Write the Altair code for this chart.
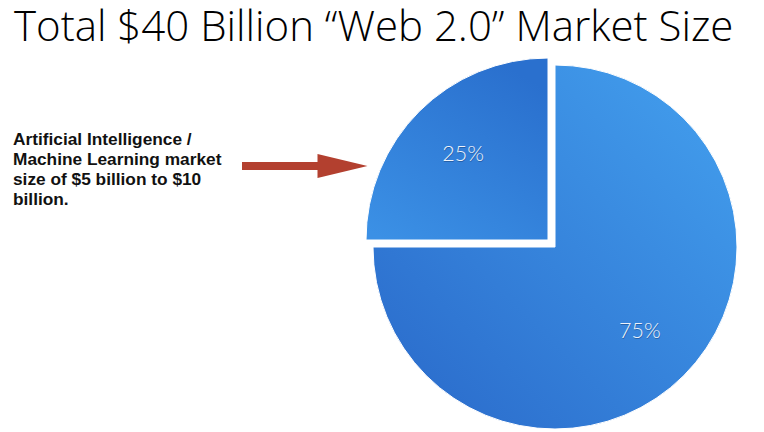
import altair as alt
import pandas as pd

# ---- data ----
segments = ["Rest of Web 2.0", "AI / Machine Learning"]
shares = [75, 25]
labels = ["75%", "25%"]
title_text = "Total $40 Billion \u201cWeb 2.0\u201d Market Size"
note_lines = ["Artificial Intelligence /", "Machine Learning market",
              "size of $5 billion to $10", "billion."]

df = pd.DataFrame({"segment": segments, "share": shares, "label": labels})

theta_scale = alt.Scale(domain=[0, 100])

base = (
    alt.Chart(df)
    .transform_stack(stack="share", groupby=[], as_=["s0", "s1"],
                     sort=[alt.SortField("share", order="descending")])
    .transform_calculate(mid="(datum.s0 + datum.s1) / 2")
)

grad_big = alt.LinearGradient(
    gradient="linear", x1=0, y1=1, x2=1, y2=0,
    stops=[alt.GradientStop(offset=0, color="#2968c9"),
           alt.GradientStop(offset=1, color="#44a1ef")])
grad_small = alt.LinearGradient(
    gradient="linear", x1=0.7, y1=0, x2=0.1, y2=1,
    stops=[alt.GradientStop(offset=0, color="#2a70ce"),
           alt.GradientStop(offset=1, color="#3b90e5")])


def slice_layers(seg, cx, cy, grad):
    b = base.transform_filter(alt.datum.segment == seg)
    arc = b.mark_arc(radius=182, fill=grad, stroke="#ffffff", strokeWidth=1).encode(
        theta=alt.Theta("s0:Q", scale=theta_scale),
        theta2="s1:Q",
        x=alt.value(cx), y=alt.value(cy),
    )
    shadow = b.mark_text(radius=120, fontSize=21.5, font="Lato", fontWeight=300,
                         color="#123a70", opacity=0.45, dy=1.2, dx=0.5).encode(
        theta=alt.Theta("mid:Q", scale=theta_scale),
        text="label:N",
        x=alt.value(cx), y=alt.value(cy),
    )
    txt = b.mark_text(radius=120, fontSize=21.5, font="Lato", fontWeight=300,
                      color="#eef3fb").encode(
        theta=alt.Theta("mid:Q", scale=theta_scale),
        text="label:N",
        x=alt.value(cx), y=alt.value(cy),
    )
    return [arc, shadow, txt]


big = slice_layers(segments[0], 547, 239, grad_big)
small = slice_layers(segments[1], 540, 232, grad_small)

title = alt.Chart(pd.DataFrame({"t": [title_text]})).mark_text(
    align="left", baseline="alphabetic", font="Open Sans", fontWeight=300,
    fontSize=42, color="#000000").encode(
    text="t:N", x=alt.value(6), y=alt.value(33))

note = alt.Chart(pd.DataFrame({"k": [0]})).mark_text(
    align="left", baseline="alphabetic", font="Liberation Sans", fontWeight="bold",
    fontSize=17.3, lineHeight=20, color="#111111").encode(
    text=alt.value(note_lines), x=alt.value(5), y=alt.value(137))

arrow_color = "#b3402f"
shaft = alt.Chart(pd.DataFrame({"k": [0]})).mark_rule(
    color=arrow_color, strokeWidth=8).encode(
    x=alt.value(234), x2=alt.value(314), y=alt.value(158))
head = alt.Chart(pd.DataFrame({"k": [0]})).mark_point(
    shape="M-1,-0.48L1,0L-1,0.48Z", size=2500, filled=True, fill=arrow_color,
    opacity=1, strokeWidth=0).encode(
    x=alt.value(334.5), y=alt.value(158))

chart = alt.layer(*big, *small, title, note, shaft, head).properties(
    width=748, height=424, autosize=alt.AutoSizeParams(type="none"), padding=0
).configure_view(stroke=None)

chart.save("out.html", embed_options={"renderer": "svg", "actions": False})
